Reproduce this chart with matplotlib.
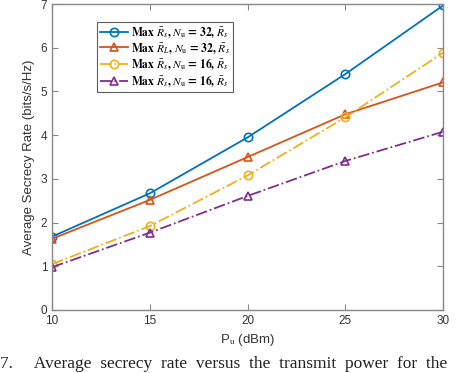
import matplotlib
matplotlib.use("Agg")
import matplotlib.pyplot as plt

plt.rcParams['font.family'] = ['Liberation Sans', 'DejaVu Sans']
plt.rcParams['mathtext.fontset'] = 'stix'

# data
p_u = [10, 15, 20, 25, 30]
rate_rs_32 = [1.68, 2.67, 3.95, 5.40, 6.97]
rate_rl_32 = [1.63, 2.52, 3.50, 4.48, 5.21]
rate_rs_16 = [1.05, 1.92, 3.08, 4.41, 5.89]
rate_rl_16 = [0.98, 1.77, 2.61, 3.41, 4.08]

labels = [r'Max $\bar{R}_s$, $N_\mathrm{u}$ = 32, $\bar{R}_s$',
          r'Max $\bar{R}_L$, $N_\mathrm{u}$ = 32, $\bar{R}_s$',
          r'Max $\bar{R}_s$, $N_\mathrm{u}$ = 16, $\bar{R}_s$',
          r'Max $\bar{R}_s$, $N_\mathrm{u}$ = 16, $\bar{R}_s$']

fig = plt.figure(figsize=(4.74, 3.73), dpi=100)
ax = fig.add_axes([0.110, 0.169, 0.825, 0.820])

ax.plot(p_u, rate_rs_32, '-o', color='#0072BD', lw=1.3, ms=6, mfc='none', mew=1.2, label=labels[0])
ax.plot(p_u, rate_rl_32, '-^', color='#D95319', lw=1.3, ms=6, mfc='none', mew=1.2, label=labels[1])
ax.plot(p_u, rate_rs_16, '-.o', color='#EDB120', lw=1.3, ms=6, mfc='none', mew=1.2, label=labels[2])
ax.plot(p_u, rate_rl_16, '-.^', color='#7E2F8E', lw=1.3, ms=6, mfc='none', mew=1.2, label=labels[3])

ax.set_xlim(10, 30)
ax.set_ylim(0, 7)
ax.set_xticks([10, 15, 20, 25, 30])
ax.set_yticks(range(0, 8))
for s in ax.spines.values():
    s.set_color('#888888')
    s.set_linewidth(1.0)
ax.tick_params(direction='in', top=True, right=True, colors='#888888',
               labelcolor='#333333', labelsize=8.5, length=4)
ax.set_xlabel(r'P$_\mathrm{u}$ (dBm)', fontsize=9.5, color='#333333')
ax.set_ylabel('Average Secrecy Rate (bits/s/Hz)', fontsize=9.5, color='#333333')

leg = ax.legend(loc='upper left', bbox_to_anchor=(0.115, 0.94),
                prop={'family': 'STIXGeneral', 'size': 8.3, 'weight': 'bold'}, frameon=True,
                fancybox=False, handlelength=2.4, borderpad=0.25, labelspacing=0.1,
                handletextpad=0.3, borderaxespad=0)
leg.get_frame().set_edgecolor('#333333')
leg.get_frame().set_linewidth(0.8)

fig.text(0.0, 0.003, '7.     Average  secrecy  rate  versus  the  transmit  power  for  the',
         fontsize=12.5, family='Liberation Serif', color='#222222', va='bottom')

fig.savefig('out.png', dpi=100)
